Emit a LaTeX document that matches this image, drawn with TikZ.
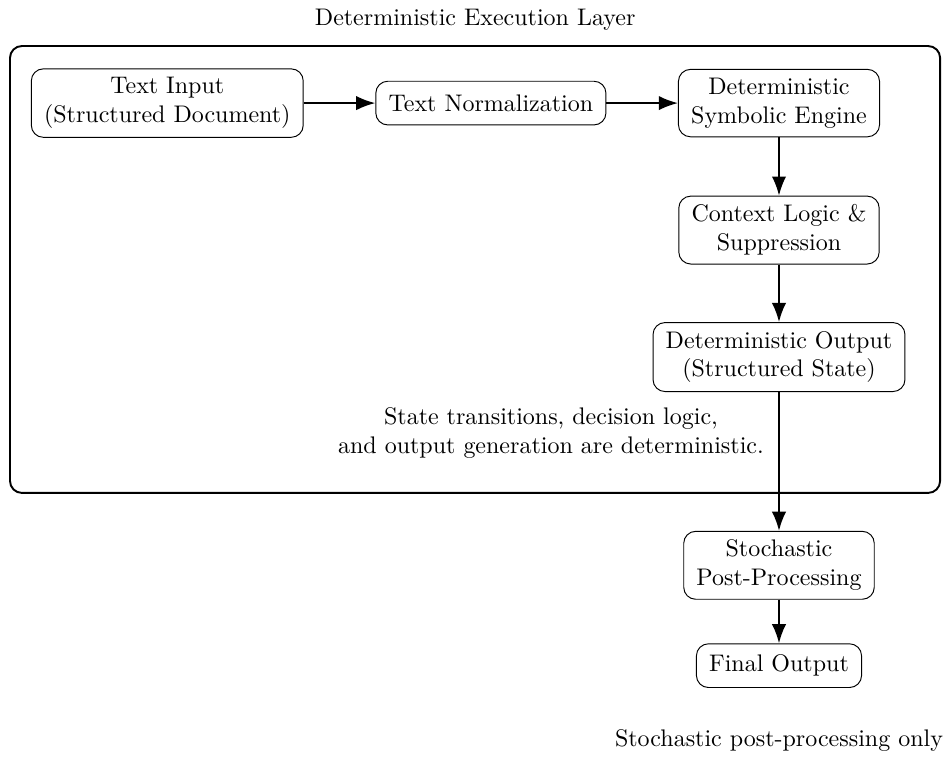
\documentclass[tikz,border=0pt]{standalone}
\usetikzlibrary{positioning,arrows.meta}
\tikzset{
  stage/.style={draw, rounded corners=5pt, align=center, inner xsep=5.3pt, inner ysep=3.6pt, minimum height=0.64cm},
  flow/.style={-{Latex[length=2.8mm]}, thick},
  layer/.style={draw, thick, rounded corners=5pt}
}
\begin{document}
\begin{tikzpicture}
  \useasboundingbox (0,0) rectangle (13.9,-11.15);
  \node (title) at (6.96,-0.29) {Deterministic Execution Layer};
  \draw[layer] (0.146,-0.674) rectangle (13.77,-7.22);

  \node[stage] (input) at (2.45,-1.51) {Text Input\\(Structured Document)};
  \node[stage] (norm) at (7.19,-1.51) {Text Normalization};
  \node[stage] (engine) at (11.41,-1.51) {Deterministic\\Symbolic Engine};
  \node[stage] (context) at (11.41,-3.37) {Context Logic \&\\Suppression};
  \node[stage] (detout) at (11.41,-5.23) {Deterministic Output\\(Structured State)};
  \node[align=center] (note) at (8.07,-6.34) {State transitions, decision logic,\\and output generation are deterministic.};

  \node[stage] (post) at (11.41,-8.28) {Stochastic\\Post-Processing};
  \node[stage] (final) at (11.41,-9.75) {Final Output};
  \node (foot) at (11.41,-10.85) {Stochastic post-processing only};

  \draw[flow] (input) -- (norm);
  \draw[flow] (norm) -- (engine);
  \draw[flow] (engine) -- (context);
  \draw[flow] (context) -- (detout);
  \draw[flow] (detout) -- (post);
  \draw[flow] (post) -- (final);
\end{tikzpicture}
\end{document}
